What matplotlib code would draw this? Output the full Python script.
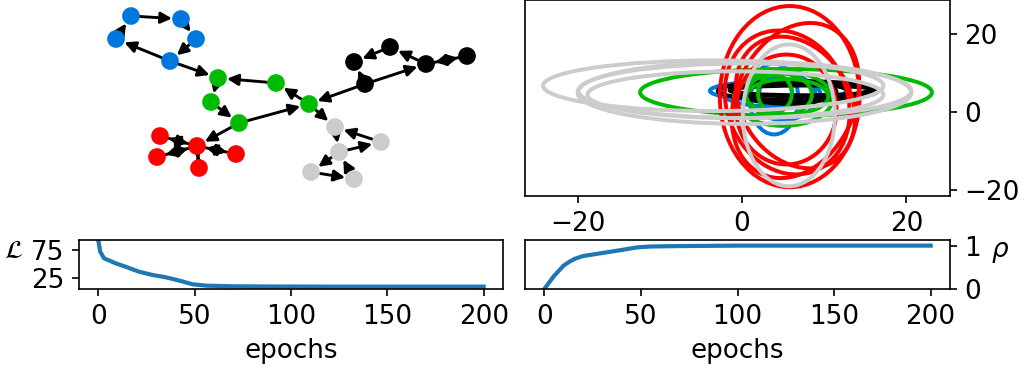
import matplotlib
matplotlib.use('Agg')
import matplotlib.pyplot as plt
from matplotlib.patches import Ellipse

plt.rcParams['font.size'] = 12.6

W, H, DPI = 1029, 377, 150

# ---------------- graph (layout positions, pixel-like coords) ----------------
node_x = [131, 181, 196, 116, 170,            # blue
          218, 276, 211, 309, 239,            # green
          354, 390, 365, 426, 467,            # black
          160, 157, 197, 236, 199,            # red
          335, 381, 339, 311, 354]            # gray
node_y = [16, 19, 39, 39, 61,
          78, 83, 102, 104, 123,
          62, 47, 84, 64, 56,
          136, 157, 146, 154, 168,
          127, 142, 152, 172, 179]
node_group = ['blue'] * 5 + ['green'] * 5 + ['black'] * 5 + ['red'] * 5 + ['gray'] * 5
edges = [(0, 1), (1, 2), (2, 4), (4, 3), (3, 0), (4, 5),
         (6, 5), (5, 7), (7, 9), (9, 8), (8, 6), (12, 8), (8, 20), (9, 17),
         (12, 13), (13, 11), (11, 10), (12, 10), (13, 14), (14, 13),
         (17, 15), (15, 17), (17, 16), (16, 17), (17, 18), (18, 17), (17, 19), (19, 17),
         (21, 20), (20, 22), (22, 21), (22, 23), (23, 24), (24, 22)]

colors = {'blue': '#0077dd', 'green': '#00bb00', 'black': '#000000',
          'red': '#ff0000', 'gray': '#cccccc'}

# ---------------- Gaussian embeddings (ellipses) ----------------
ell_blue_cx = [4.4, 3.9, 4.1, 3.5, 5.0]
ell_blue_cy = [5.5, 3.4, 4.9, 5.0, 4.0]
ell_blue_w = [16.6, 5.9, 4.0, 12.0, 8.0]
ell_blue_h = [5.0, 18.2, 8.6, 7.0, 12.0]
ell_blue_a = [0, 0, 0, 0, 0]

ell_black_cx = [6.8, 7.0, 6.0, 7.5, 5.5]
ell_black_cy = [5.5, 5.8, 5.3, 5.6, 5.2]
ell_black_w = [19.5, 17.0, 14.0, 18.0, 12.0]
ell_black_h = [5.0, 3.5, 4.5, 2.5, 6.0]
ell_black_a = [0, 0, 0, 0, 0]

ell_green_cx = [5.35, 4.0, 5.0, 5.5, 4.5]
ell_green_cy = [5.1, 4.8, 3.5, 4.0, 4.5]
ell_green_w = [35.5, 4.1, 12.0, 10.0, 8.0]
ell_green_h = [12.0, 9.7, 14.0, 9.0, 11.0]
ell_green_a = [0, 0, 0, 0, 0]

ell_red_cx = [5.8, 6.5, 5.5, 5.4, 6.5]
ell_red_cy = [4.0, 3.0, 2.5, 0.7, 2.5]
ell_red_w = [17.0, 15.0, 15.0, 12.2, 14.0]
ell_red_h = [46.5, 40.0, 37.0, 28.2, 34.0]
ell_red_a = [0, -6, 4, 0, 7]

ell_gray_cx = [5.7, -3.5, 0.35, -0.8, 0.3]
ell_gray_cy = [-0.8, 6.8, 5.5, 4.5, 5.0]
ell_gray_w = [11.2, 41.4, 40.5, 36.0, 40.6]
ell_gray_h = [36.4, 13.0, 14.0, 12.0, 16.0]
ell_gray_a = [0, 0, 0, 0, 0]

ellipse_sets = [
    ('blue', ell_blue_cx, ell_blue_cy, ell_blue_w, ell_blue_h, ell_blue_a),
    ('black', ell_black_cx, ell_black_cy, ell_black_w, ell_black_h, ell_black_a),
    ('green', ell_green_cx, ell_green_cy, ell_green_w, ell_green_h, ell_green_a),
    ('red', ell_red_cx, ell_red_cy, ell_red_w, ell_red_h, ell_red_a),
    ('gray', ell_gray_cx, ell_gray_cy, ell_gray_w, ell_gray_h, ell_gray_a),
]

# ---------------- training curves ----------------
loss_epochs = [0, 1, 3, 6, 9, 15, 21, 28, 35, 42, 49, 56, 70, 90, 120, 160, 200]
loss_values = [92.6, 72, 60.3, 56, 51.5, 44.4, 36.8, 30.9, 26.8, 21, 14.4, 12, 10.9, 10.5, 10.3, 10.3, 10.3]

rho_epochs = [0, 5, 10, 13, 16, 20, 30, 40, 48, 55, 70, 100, 150, 200]
rho_values = [0.0, 0.3, 0.54, 0.63, 0.7, 0.76, 0.83, 0.9, 0.96, 0.98, 0.99, 1.0, 1.0, 1.0]


def frac(x0, y0, x1, y1):
    return [x0 / W, 1 - y1 / H, (x1 - x0) / W, (y1 - y0) / H]


fig = plt.figure(figsize=(W / DPI, H / DPI), dpi=DPI)

# graph
axg = fig.add_axes([0, 0, 1, 1])
axg.set_xlim(0, W)
axg.set_ylim(H, 0)
axg.axis('off')
for u, v in edges:
    axg.annotate('', xy=(node_x[v], node_y[v]), xytext=(node_x[u], node_y[u]),
                 arrowprops=dict(arrowstyle='-|>', color='black', lw=1.4,
                                 mutation_scale=11, shrinkA=4.3, shrinkB=4.3),
                 zorder=1)
axg.scatter(node_x, node_y, s=72, c=[colors[g] for g in node_group], zorder=3,
            linewidths=0)

# ellipses
axe = fig.add_axes(frac(525, 0, 950, 196))
for name, cx, cy, w, h, a in ellipse_sets:
    for i in range(len(cx)):
        axe.add_patch(Ellipse((cx[i], cy[i]), w[i], h[i], angle=a[i], fill=False,
                              edgecolor=colors[name], lw=1.9))
axe.set_xlim(-26.4, 25.3)
axe.set_ylim(-21.5, 28.8)
axe.set_xticks([-20, 0, 20])
axe.set_yticks([-20, 0, 20])
axe.yaxis.tick_right()

# loss
axl = fig.add_axes(frac(79, 240, 503, 289))
axl.plot(loss_epochs, loss_values, color='#1f77b4', lw=2)
axl.set_xlim(-10, 210)
axl.set_ylim(6.1, 92.6)
axl.set_yticks([25, 75])
axl.set_xticks([0, 50, 100, 150, 200])
axl.set_xlabel('epochs')
axl.set_ylabel(r'$\mathcal{L}$', rotation=0, ha='center', va='center')
axl.yaxis.set_label_coords(-0.155, 0.78)

# rho
axr = fig.add_axes(frac(525, 240, 950, 289))
axr.plot(rho_epochs, rho_values, color='#1f77b4', lw=2)
axr.set_xlim(-10, 210)
axr.set_ylim(0, 1.13)
axr.set_yticks([0, 1])
axr.set_xticks([0, 50, 100, 150, 200])
axr.yaxis.tick_right()
axr.set_xlabel('epochs')
axr.set_ylabel(r'$\rho$', rotation=0, ha='center', va='center')
axr.yaxis.set_label_coords(1.118, 0.755)

fig.savefig('out.png', dpi=DPI)
